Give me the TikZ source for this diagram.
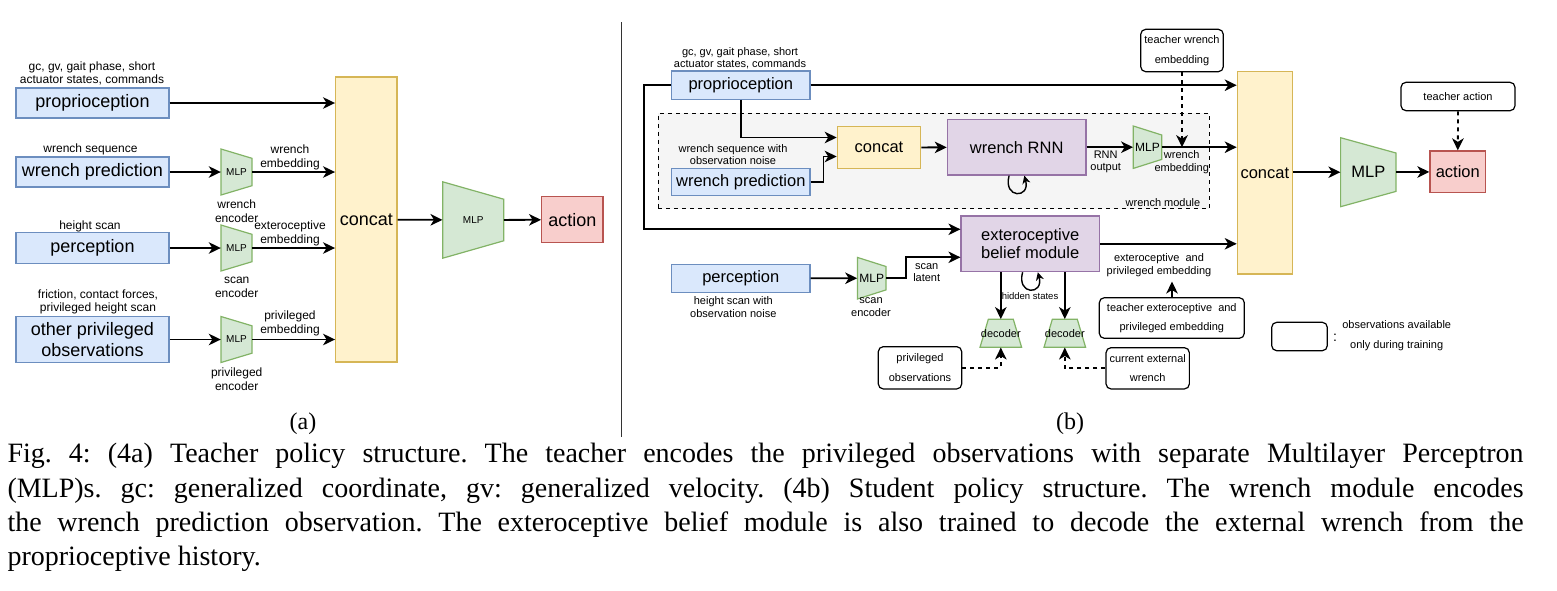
\documentclass[tikz,border=0pt]{standalone}
\usepackage{fontspec}
\setmainfont{Liberation Sans}
\newfontfamily\capfont{Liberation Serif}
\usetikzlibrary{arrows.meta,calc}
\definecolor{bluefill}{HTML}{DAE8FC}\definecolor{blueline}{HTML}{6C8EBF}
\definecolor{yelfill}{HTML}{FFF2CC}\definecolor{yelline}{HTML}{D6B656}
\definecolor{grnfill}{HTML}{D5E8D4}\definecolor{grnline}{HTML}{82B366}
\definecolor{redfill}{HTML}{F8CECC}\definecolor{redline}{HTML}{B85450}
\definecolor{purfill}{HTML}{E1D5E7}\definecolor{purline}{HTML}{9673A6}
\definecolor{modfill}{HTML}{F5F5F5}
\tikzset{bx/.append style={draw, line width=1.2pt, inner sep=0pt, align=center}}
\tikzset{obs/.append style={bx, draw=blueline, fill=bluefill}}
\tikzset{cat/.append style={bx, draw=yelline, fill=yelfill}}
\tikzset{act/.append style={bx, draw=redline, fill=redfill}}
\tikzset{rnn/.append style={bx, draw=purline, fill=purfill}}
\tikzset{teach/.append style={bx, draw=black, fill=white, rounded corners=5pt, font=\fontsize{11}{19.5}\selectfont}}
\tikzset{mlpshape/.append style={draw=grnline, fill=grnfill, line width=1.2pt}}
\tikzset{big/.append style={font=\fontsize{18}{20}\selectfont}}
\tikzset{mid/.append style={font=\fontsize{16.5}{18.3}\selectfont}}
\tikzset{lbl/.append style={inner sep=0pt, align=center, font=\fontsize{12}{13.7}\selectfont}}
\tikzset{slbl/.append style={inner sep=0pt, align=center, font=\fontsize{11}{12.3}\selectfont}}
\tikzset{arr/.append style={line width=1.8pt, -{Stealth[length=12pt,width=11.5pt,inset=3.5pt]}}}
\tikzset{darr/.append style={arr, dash pattern=on 4pt off 4pt}}
\tikzset{lp/.append style={line width=1.4pt, -{Stealth[length=8pt,width=8pt,inset=2.5pt]}}}
\tikzset{capline/.append style={inner sep=0pt, anchor=base west, font=\fontsize{28}{34}\capfont\frenchspacing}}

% trapezoid with vertical sides: name, x, y, half width, left/right half height, text, style
\newcommand{\mlpnode}[8]{%
  \filldraw[mlpshape] ({#2-#4},{#3-#5}) -- ({#2-#4},{#3+#5}) -- ({#2+#4},{#3+#6}) -- ({#2+#4},{#3-#6}) -- cycle;
  \node[inner sep=0pt, minimum width={2*#4pt}, minimum height={2*#5pt}, #8] (#1) at (#2,#3) {#7};}
% decoder: name, x, y, top half width, bottom half width, half height, text
\newcommand{\decnode}[7]{%
  \filldraw[mlpshape] ({#2-#4},{#3-#6}) -- ({#2+#4},{#3-#6}) -- ({#2+#5},{#3+#6}) -- ({#2-#5},{#3+#6}) -- cycle;
  \node[inner sep=0pt, minimum width={2*#5pt}, minimum height={2*#6pt}, font=\fontsize{11}{12}\selectfont] (#1) at (#2,#3) {#7};}

\begin{document}
\begin{tikzpicture}[x=1pt, y=-1pt]
                \useasboundingbox (0,0) rectangle (1557,590);
                % (a) teacher
                \node[obs,big,minimum width=153pt,minimum height=30pt] (propA) at (92.5,103) {proprioception};
                \node[obs,big,minimum width=153pt,minimum height=30pt] (wrenchA) at (92.5,172) {wrench prediction};
                \node[obs,big,minimum width=153pt,minimum height=31pt] (percA) at (92.5,248) {perception};
                \node[obs,big,minimum width=153pt,minimum height=45.5pt,font=\fontsize{18}{21}\selectfont] (privA) at (92.5,339.5) {other privileged\\observations};
                \node[lbl] (propAin) at (92,73.5) {gc, gv, gait phase, short\\actuator states, commands};
                \node[lbl] (wrenchAin) at (90.5,149.5) {wrench sequence};
                \node[lbl] (percAin) at (90,226) {height scan};
                \node[lbl] (privAin) at (98,302) {friction, contact forces,\\privileged height scan};
                \mlpnode{encW}{236.5}{172}{15.5}{23}{13.7}{MLP}{font=\fontsize{10}{12}\selectfont}
                \mlpnode{encS}{236.5}{248}{15.5}{23}{13.7}{MLP}{font=\fontsize{10}{12}\selectfont}
                \mlpnode{encP}{236.5}{339.5}{15.5}{23}{13.7}{MLP}{font=\fontsize{10}{12}\selectfont}
                \node[lbl] (encWl) at (236.7,211) {wrench\\encoder};
                \node[lbl] (encSl) at (236.7,287.5) {scan\\encoder};
                \node[lbl] (encPl) at (236.7,379) {privileged\\encoder};
                \node[lbl] (embW) at (290,157.5) {wrench\\embedding};
                \node[lbl] (embS) at (290,233.5) {exteroceptive\\embedding};
                \node[lbl] (embP) at (290,323.5) {privileged\\embedding};
                \node[cat,big,minimum width=61.3pt,minimum height=285pt] (catA) at (366.3,219.5) {concat};
                \mlpnode{mlpA}{473.2}{220}{30.5}{38.2}{20.8}{MLP}{font=\fontsize{10}{12}\selectfont}
                \node[act,big,minimum width=61.3pt,minimum height=46pt] (actA) at (572.3,219.7) {action};
                \path (propA) edge[arr] (catA.west |- propA.east);
                \path (wrenchA) edge[arr] (encW);
                \path (percA) edge[arr] (encS);
                \path (privA) edge[arr] (encP);
                \path (encW) edge[arr] (catA.west |- encW.east);
                \path (encS) edge[arr] (catA.west |- encS.east);
                \path (encP) edge[arr] (catA.west |- encP.east);
                \path (catA) edge[arr] (mlpA);
                \path (mlpA) edge[arr] (actA);
                \node[inner sep=0pt,font=\fontsize{24}{28}\capfont] (capA) at (303,424) {(a)};
                % divider
                \draw[line width=1pt, black!80] (621,22) -- (621,437);
                % (b) student
                \node[bx, draw=black, fill=modfill, dash pattern=on 4pt off 4pt, minimum width=551pt, minimum height=95.4pt] (wmod) at (933.8,161) {};
                \node[slbl,anchor=base] (wmodl) at (1163,206.5) {wrench module};
                \node[obs,mid,minimum width=138.3pt,minimum height=28.3pt] (propB) at (740.8,85.2) {proprioception};
                \node[obs,mid,minimum width=138.3pt,minimum height=27.4pt] (wrenchB) at (740.8,182) {wrench prediction};
                \node[obs,mid,minimum width=138.3pt,minimum height=28pt] (percB) at (740.8,278.3) {perception};
                \node[slbl] (propBin) at (740,58.3) {gc, gv, gait phase, short\\actuator states, commands};
                \node[slbl] (wrenchBin) at (733,154.7) {wrench sequence with\\observation noise};
                \node[slbl] (percBin) at (733.3,307) {height scan with\\observation noise};
                \node[cat,mid,minimum width=83.4pt,minimum height=41.6pt] (catB) at (879,147.5) {concat};
                \node[rnn,mid,minimum width=138.7pt,minimum height=55.7pt] (rnnB) at (1016.7,147.2) {wrench RNN};
                \mlpnode{mlpW}{1147.5}{147.2}{14.2}{21.2}{12.2}{MLP}{font=\fontsize{12}{14}\selectfont}
                \node[slbl] (rnnOut) at (1105.7,162) {RNN\\output};
                \node[slbl] (embWB) at (1181.7,162) {wrench\\embedding};
                \node[teach,minimum width=82.6pt,minimum height=42.4pt] (teachW) at (1182,50.5) {teacher wrench\\embedding};
                \node[cat,mid,minimum width=55pt,minimum height=202.3pt] (catBig) at (1264.8,172.8) {concat};
                \mlpnode{mlpB}{1368.3}{172.2}{27.7}{34.5}{19.2}{MLP}{mid}
                \node[act,mid,minimum width=55.7pt,minimum height=41.7pt] (actB) at (1457.8,171.8) {action};
                \node[teach,minimum width=114pt,minimum height=28.4pt] (teachAct) at (1458,96.5) {teacher action};
                \node[rnn,mid,minimum width=138.3pt,minimum height=55.7pt] (ebm) at (1030.2,243.8) {exteroceptive\\belief module};
                \mlpnode{mlpS}{871.7}{278.2}{14.3}{20.8}{11.7}{MLP}{font=\fontsize{12}{14}\selectfont}
                \node[slbl] (scanLat) at (926.7,272.5) {scan\\latent};
                \node[slbl] (scanEnc) at (871,307) {scan\\encoder};
                \node[slbl] (extEmb) at (1159,265) {exteroceptive\ \ and\\privileged embedding};
                \coordinate (extTip) at (1172,281.5);
                \node[teach,minimum width=145pt,minimum height=40.6pt] (teachExt) at (1171.8,318) {teacher exteroceptive\ \ and\\privileged embedding};
                \decnode{decP}{1000.8}{333.3}{12.5}{20.8}{14}{decoder}
                \decnode{decW}{1064.8}{333.3}{12.5}{20.8}{14}{decoder}
                \node[inner sep=0pt,font=\fontsize{9.5}{11}\selectfont] (hid) at (1030,296) {hidden states};
                \node[teach,minimum width=83.4pt,minimum height=42.3pt] (privObs) at (920,367.8) {privileged\\observations};
                \node[teach,minimum width=83.3pt,minimum height=41.3pt] (curWr) at (1147.7,368.3) {current external\\wrench};
                \node[teach,minimum width=55.6pt,minimum height=28.4pt] (legBox) at (1299.5,336.5) {};
                \node[inner sep=0pt,font=\fontsize{14}{16}\selectfont] (legCol) at (1335,338) {:};
                \node[teach,draw=none,fill=none,font=\fontsize{11}{20}\selectfont] (legTxt) at (1396.7,336) {observations available\\only during training};
                \coordinate (bend) at (644,229.3);
                \draw[arr] (propB.west) -| (bend) -- ([yshift=14.5pt]ebm.west);
                \path (propB.east) edge[arr] (catBig.west |- propB.east);
                \draw[arr] (propB.south) |- ([yshift=10pt]catB.west);
                \draw[arr] (wrenchB.east) -- ++(13,0) |- ([yshift=-9pt]catB.west);
                \path (catB) edge[arr] (rnnB);
                \path (rnnB) edge[arr] (mlpW);
                \path (mlpW.east) edge[arr] (catBig.west |- mlpW.east);
                \draw[darr] (teachW.south) -- (teachW.south |- mlpW.east);
                \path (catBig.east |- mlpB.west) edge[arr] (mlpB);
                \path (mlpB) edge[arr] (actB);
                \draw[darr] (teachAct.south) -- (actB.north);
                \path (ebm.east) edge[arr] (catBig.west |- ebm.east);
                \draw[arr] (teachExt.north -| extTip) -- (extTip);
                \path (percB) edge[arr] (mlpS);
                \draw[arr] (mlpS.east) -- ++(20,0) |- ([yshift=-13.5pt]ebm.west);
                \draw[arr] (decP.north |- ebm.south) -- (decP.north);
                \draw[arr] (decW.north |- ebm.south) -- (decW.north);
                \draw[darr] (privObs.east) -| (decP.south);
                \draw[darr] (curWr.west) -| (decW.south);
                \path (rnnB) edge[lp, out=-105, in=-75, looseness=1, min distance=24pt] (rnnB);
                \path (ebm) edge[lp, out=-105, in=-75, looseness=1, min distance=24pt] (ebm);
                \node[inner sep=0pt,font=\fontsize{24}{28}\capfont] (capB) at (1070,424) {(b)};
                % caption
                \node[capline] (cap1) at (7.3,462.7) {\makebox[1516pt][s]{Fig. 4: (4a) Teacher policy structure. The teacher encodes the privileged observations with separate Multilayer Perceptron}};
                \node[capline] (cap2) at (7.3,497) {\makebox[1516pt][s]{(MLP)s. gc: generalized coordinate, gv: generalized velocity. (4b) Student policy structure. The wrench module encodes}};
                \node[capline] (cap3) at (7.3,531.3) {\makebox[1516pt][s]{the wrench prediction observation. The exteroceptive belief module is also trained to decode the external wrench from the}};
                \node[capline] (cap4) at (7.3,565.6) {proprioceptive history.};
            \end{tikzpicture}
\end{document}
